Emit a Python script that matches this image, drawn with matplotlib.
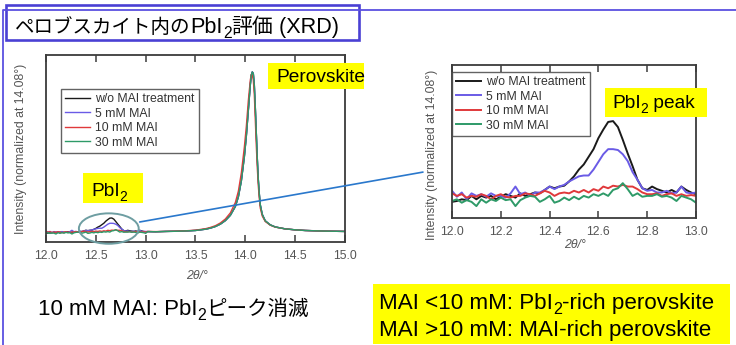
import matplotlib
matplotlib.use("Agg")
import matplotlib.pyplot as plt
from matplotlib.patches import Rectangle, Ellipse, ConnectionPatch
from matplotlib.lines import Line2D

plt.rcParams['font.family'] = ['Liberation Sans', 'Noto Sans CJK JP', 'DejaVu Sans']

W, H = 736, 345

# ---------------- data ----------------
series_labels = ["w/o MAI treatment", "5 mM MAI", "10 mM MAI", "30 mM MAI"]
series_colors = ["#1a1a1a", "#6a5be6", "#e0393b", "#2e9a68"]

# PbI2 region (zoomed scan), intensity normalized at 14.08 deg
two_theta_pbi2 = [12.00, 12.02, 12.04, 12.06, 12.08, 12.10, 12.12, 12.14, 12.16, 12.18,
                  12.20, 12.22, 12.24, 12.26, 12.28, 12.30, 12.32, 12.34, 12.36, 12.38,
                  12.40, 12.42, 12.44, 12.46, 12.48, 12.50, 12.52, 12.54, 12.56, 12.58,
                  12.60, 12.62, 12.64, 12.66, 12.68, 12.70, 12.72, 12.74, 12.76, 12.78,
                  12.80, 12.82, 12.84, 12.86, 12.88, 12.90, 12.92, 12.94, 12.96, 12.98, 13.00]

int_wo = [-0.007, -0.006, -0.004, -0.005, 0.000, -0.004, 0.000, -0.002, 0.000, -0.004,
          -0.001, 0.002, 0.000, -0.002, 0.003, 0.000, 0.002, 0.004, 0.003, 0.007,
          0.011, 0.009, 0.011, 0.012, 0.017, 0.023, 0.031, 0.037, 0.046, 0.055,
          0.068, 0.078, 0.087, 0.088, 0.081, 0.066, 0.050, 0.035, 0.019, 0.009,
          0.007, 0.011, 0.008, 0.006, 0.004, 0.007, 0.004, 0.011, 0.007, 0.004, 0.002]

int_5 = [0.006, -0.001, 0.004, -0.004, 0.003, 0.000, 0.002, -0.001, 0.003, 0.000,
         0.000, -0.002, 0.003, 0.011, 0.002, 0.004, 0.000, 0.004, 0.004, 0.007,
         0.011, 0.008, 0.011, 0.013, 0.017, 0.020, 0.023, 0.024, 0.024, 0.031,
         0.040, 0.049, 0.055, 0.055, 0.054, 0.049, 0.041, 0.028, 0.019, 0.009,
         0.006, 0.007, 0.004, 0.004, 0.006, 0.003, 0.004, 0.011, 0.004, 0.003, 0.004]

int_10 = [0.003, 0.000, 0.002, -0.002, 0.000, -0.001, 0.002, 0.000, -0.004, 0.000,
          0.002, -0.001, -0.002, 0.000, 0.000, 0.003, 0.002, 0.000, 0.003, 0.006,
          0.004, 0.000, 0.003, 0.004, 0.003, 0.006, 0.004, 0.007, 0.004, 0.008,
          0.006, 0.011, 0.009, 0.012, 0.011, 0.013, 0.011, 0.011, 0.008, 0.004,
          0.002, 0.002, 0.003, 0.000, 0.002, 0.003, 0.000, 0.002, 0.000, 0.001, 0.000]

int_30 = [-0.006, -0.004, -0.008, -0.005, -0.007, -0.012, -0.004, -0.008, -0.004, -0.006,
          -0.002, -0.005, -0.004, -0.012, -0.005, -0.002, 0.000, -0.001, -0.007, -0.004,
          0.000, -0.008, -0.006, -0.002, -0.005, -0.001, -0.004, 0.000, -0.002, 0.002,
          0.000, 0.003, 0.000, 0.007, 0.009, 0.015, 0.008, 0.000, 0.003, -0.001,
          0.000, 0.000, 0.002, -0.001, 0.000, -0.002, -0.006, 0.000, -0.002, -0.004, -0.008]

# perovskite (110) region of the wide scan
two_theta_perov = [13.02, 13.10, 13.20, 13.30, 13.40, 13.50, 13.60, 13.65, 13.70, 13.75,
                   13.80, 13.85, 13.90, 13.93, 13.96, 13.99, 14.01, 14.03, 14.05, 14.06,
                   14.07, 14.08, 14.09, 14.10, 14.11, 14.12, 14.13, 14.14, 14.15, 14.17,
                   14.20, 14.25, 14.30, 14.40, 14.50, 14.60, 14.70, 14.80, 14.90, 15.00]
perov_main = [0.003, 0.002, 0.004, 0.005, 0.007, 0.010, 0.018, 0.025, 0.035, 0.050,
              0.072, 0.105, 0.160, 0.220, 0.320, 0.470, 0.600, 0.760, 0.920, 0.980,
              1.000, 0.990, 0.920, 0.780, 0.620, 0.460, 0.330, 0.240, 0.170, 0.110,
              0.070, 0.045, 0.032, 0.020, 0.014, 0.010, 0.008, 0.006, 0.005, 0.004]
perov_10 = [0.004, 0.003, 0.004, 0.006, 0.008, 0.012, 0.021, 0.029, 0.040, 0.057,
            0.082, 0.120, 0.185, 0.255, 0.370, 0.530, 0.660, 0.820, 0.950, 0.985,
            0.980, 0.950, 0.860, 0.700, 0.540, 0.400, 0.290, 0.210, 0.150, 0.100,
            0.066, 0.043, 0.031, 0.020, 0.014, 0.010, 0.008, 0.006, 0.005, 0.004]

pbi2_series = [int_wo, int_5, int_10, int_30]
perov_series = [perov_main, perov_main, perov_10, perov_main]

# ---------------- figure ----------------
fig = plt.figure(figsize=(W / 100, H / 100), dpi=100)
fig.patch.set_facecolor("white")
renderer = fig.canvas.get_renderer()


def fx(px):
    return px / W


def fy(py):
    return 1 - py / H


def rich(x_px, base_px, parts, zorder=8, color="black"):
    """parts: list of (text, fontsize, is_subscript); drawn left to right on a baseline."""
    cur = x_px
    for s, size, sub in parts:
        fs = size * 0.72 if sub else size
        off = size * (100 / 72) * 0.24 if sub else 0.0
        t = fig.text(fx(cur), fy(base_px + off), s, fontsize=fs, va="baseline",
                     ha="left", color=color, zorder=zorder)
        cur += t.get_window_extent(renderer).width


frame_col = "#5b50e0"
# slide frame lines
fig.add_artist(Line2D([fx(3), fx(3), fx(736)], [fy(345), fy(10), fy(10)],
                      color=frame_col, lw=1.3, transform=fig.transFigure))
# title box
fig.add_artist(Rectangle((fx(6), fy(40)), fx(359) - fx(6), fy(5) - fy(40),
                         transform=fig.transFigure, facecolor="white",
                         edgecolor="#4a40d4", lw=1.9))
rich(15, 33, [("ペロブスカイト内の", 14.0, False), ("PbI", 15.6, False), ("2", 15.6, True),
              ("評価", 15.0, False), (" (XRD)", 15.6, False)])

spine_col = "#3c3c3c"
tick_col = "#555555"
small = 8.8


def style_axes(ax, xticks):
    for s in ax.spines.values():
        s.set_color(spine_col)
        s.set_linewidth(1.3)
    ax.set_xticks(xticks)
    ax.set_xticklabels([f"{t:.1f}" for t in xticks])
    ax.tick_params(axis="x", direction="in", top=True, length=5, width=1.1,
                   color=spine_col, labelsize=small, labelcolor=tick_col, pad=6)
    ax.tick_params(axis="y", left=False, labelleft=False)
    ax.set_xlabel("2θ/°", fontsize=small, color=tick_col, style="italic")
    ax.set_ylabel("Intensity (normalized at 14.08°)", fontsize=small, color=tick_col)


# ---------- left: wide scan ----------
ax1 = fig.add_axes([fx(46), fy(242), fx(345) - fx(46), fy(55) - fy(242)])
for ys_p, ys_w, c, lab in zip(pbi2_series, perov_series, series_colors, series_labels):
    ax1.plot(two_theta_pbi2 + two_theta_perov, ys_p + ys_w, color=c, lw=1.0, label=lab)
ax1.set_xlim(12.0, 15.0)
ax1.set_ylim(-0.062, 1.106)
style_axes(ax1, [12.0, 12.5, 13.0, 13.5, 14.0, 14.5, 15.0])
ax1.xaxis.set_label_coords(0.505, -0.15)
ax1.yaxis.set_label_coords(-0.064, 0.5)
leg1 = ax1.legend(loc="upper left", bbox_to_anchor=(0.05, 0.818), fontsize=small,
                  frameon=True, fancybox=False, edgecolor=spine_col, borderaxespad=0,
                  handlelength=2.0, handletextpad=0.45, labelspacing=0.2, borderpad=0.35)
leg1.get_frame().set_linewidth(1.0)
for t in leg1.get_texts():
    t.set_color("#333333")

# ---------- right: PbI2 zoom ----------
ax2 = fig.add_axes([fx(452), fy(218), fx(696) - fx(452), fy(65) - fy(218)])
for ys, c, lab in zip(pbi2_series, series_colors, series_labels):
    ax2.plot(two_theta_pbi2, ys, color=c, lw=1.4, label=lab)
ax2.set_xlim(12.0, 13.0)
ax2.set_ylim(-0.026, 0.154)
style_axes(ax2, [12.0, 12.2, 12.4, 12.6, 12.8, 13.0])
ax2.xaxis.set_label_coords(0.504, -0.135)
ax2.yaxis.set_label_coords(-0.057, 0.41)
leg2 = ax2.legend(loc="upper left", bbox_to_anchor=(0.0, 0.954), fontsize=small,
                  frameon=True, fancybox=False, edgecolor=spine_col, borderaxespad=0,
                  handlelength=2.0, handletextpad=0.45, labelspacing=0.2, borderpad=0.35)
leg2.get_frame().set_linewidth(1.0)
for t in leg2.get_texts():
    t.set_color("#333333")

# ---------- annotations ----------
ell = Ellipse((12.63, 0.022), 0.6, 0.19, transform=ax1.transData, fill=False,
              edgecolor="#6e9ea2", lw=1.4, clip_on=False, zorder=5)
ax1.add_patch(ell)
con = ConnectionPatch(xyA=(12.94, 0.063), coordsA=ax1.transData,
                      xyB=(-0.119, 0.30), coordsB=ax2.transAxes,
                      color="#2a78cc", lw=1.2, zorder=6)
fig.add_artist(con)


def yellow_box(x0, y0, x1, y1):
    fig.add_artist(Rectangle((fx(x0), fy(y1)), fx(x1) - fx(x0), fy(y0) - fy(y1),
                             transform=fig.transFigure, facecolor="#ffff00",
                             edgecolor="none", zorder=7))


lab_size = 13.8
yellow_box(268, 63, 364, 89)
rich(276, 82, [("Perovskite", lab_size, False)])
yellow_box(83, 173, 143, 203)
rich(91, 196, [("PbI", lab_size, False), ("2", lab_size, True)])
yellow_box(605, 88, 707, 117)
rich(612, 108, [("PbI", lab_size, False), ("2", lab_size, True), (" peak", lab_size, False)])

rich(38, 315, [("10 mM MAI: PbI", 16, False), ("2", 16, True), ("ピーク消滅", 14.8, False)],
     zorder=8)

yellow_box(373, 284, 730, 344)
rich(379, 309, [("MAI <10 mM: PbI", 16.1, False), ("2", 16.1, True),
                ("-rich perovskite", 16.1, False)])
rich(379, 336, [("MAI >10 mM: MAI-rich perovskite", 16.1, False)])

fig.savefig("out.png", dpi=100)
